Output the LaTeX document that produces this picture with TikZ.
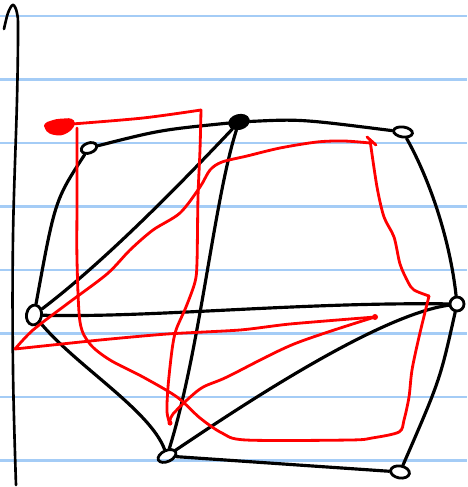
\documentclass[tikz,border=0pt]{standalone}
\usepackage{tikz}
\usetikzlibrary{shapes.geometric}
\definecolor{nb-rule}{HTML}{A4CCF6}
\definecolor{nb-ink}{HTML}{000000}
\definecolor{nb-red}{HTML}{FF0000}

\begin{document}
\begin{tikzpicture}[
    x=0.02cm, y=-0.02cm,
    vertex/.style={draw=nb-ink, ellipse, line width=1.6pt, inner sep=0pt, minimum width=0.32cm, minimum height=0.2cm},
    edge/.style={draw=nb-ink, line width=1.8pt, line cap=round},
    tour/.style={draw=nb-red, line width=1.6pt, line cap=round, line join=round},
    rule/.style={draw=nb-rule, line width=1.3pt}
]
\useasboundingbox (0,0) rectangle (467,487);

% ── Linhas do caderno ─────────────────────────────────────────
\foreach \y in {16,79.5,...,461}
    \draw[rule] (0,\y) -- (467,\y);

% ── Margem à esquerda ─────────────────────────────────────────
\draw[edge, line width=1.5pt] plot[smooth, tension=0.6] coordinates {(4,29) (8,13) (13,5) (17,13) (18,30) (17,100) (13,237) (13,370) (16,485)};

% ── Vértices ──────────────────────────────────────────────────
\node[vertex, rotate=20] (A) at (89,148) {};
\node[vertex, rotate=15, fill=nb-ink, minimum width=0.38cm, minimum height=0.26cm] (B) at (239,122) {};
\node[vertex, rotate=-8, minimum width=0.38cm] (C) at (403,132) {};
\node[vertex, rotate=80, minimum width=0.4cm, minimum height=0.3cm] (D) at (34,315) {};
\node[vertex, minimum width=0.28cm, minimum height=0.28cm] (E) at (457,304) {};
\node[vertex, rotate=25, minimum width=0.38cm, minimum height=0.22cm] (F) at (167,456) {};
\node[vertex, rotate=-10, minimum width=0.38cm, minimum height=0.24cm] (G) at (400,472) {};

% ── Arestas ───────────────────────────────────────────────────
\draw[edge] (A) .. controls (160,130) .. (B);
\draw[edge] (A) .. controls (55,200) .. (D);
\draw[edge] (B) .. controls (300,119) .. (C);
\draw[edge] (B) .. controls (170,195) and (100,265) .. (D);
\draw[edge] (B) .. controls (214,200) and (200,350) .. (F);
\draw[edge] (C) .. controls (430,180) and (450,240) .. (E);
\draw[edge] (D) .. controls (150,318) and (300,302) .. (E);
\draw[edge] (E) .. controls (380,315) and (250,400) .. (F);
\draw[edge] (D) .. controls (75,365) and (150,410) .. (F);
\draw[edge] (F) -- (G);
\draw[edge] (E) .. controls (440,380) .. (G);

% ── Percurso em vermelho ──────────────────────────────────────
\fill[nb-red, rounded corners=2pt] (44,123) -- (56,119) -- (72,118) -- (76,123) -- (71,131) -- (61,136) -- (49,134) -- (44,128) -- cycle;
\draw[tour] plot[smooth, tension=0.5] coordinates {(170,424) (167,412) (168,387) (172,350) (176,330) (186,307) (195,282) (197,262) (198,197) (200,150) (201,110)};
\draw[tour] plot[smooth, tension=0.5] coordinates {(201,110) (143,118) (72,124)};
\draw[tour] plot[smooth, tension=0.5] coordinates {(77,128) (77,200) (77,260) (80,322) (90,344) (110,360) (143,377) (177,397) (200,418) (222,433) (246,440) (350,440) (372,438) (399,432) (404,420) (409,397) (412,370) (419,337) (429,296)};
\draw[tour] plot[smooth, tension=0.5] coordinates {(429,296) (414,290) (408,282) (400,264) (394,237) (384,217) (377,187) (370,140)};
\draw[tour] (367,137) -- (376,145);
\draw[tour] plot[smooth, tension=0.5] coordinates {(370,143) (344,141) (317,142) (280,148) (247,156) (222,162) (210,170) (200,187) (180,213) (153,230) (130,250) (107,274) (67,304) (33,330) (15,349)};
\draw[tour] plot[smooth, tension=0.4] coordinates {(15,349) (100,340) (167,334) (240,330) (290,324) (375,317)};
\fill[nb-red] (375,317) circle[radius=3];
\draw[tour] plot[smooth, tension=0.5] coordinates {(375,317) (294,344) (227,377) (200,389) (173,414) (170,424)};
\fill[nb-red] (170,423) circle[radius=2.5];

\end{tikzpicture}
\end{document}
